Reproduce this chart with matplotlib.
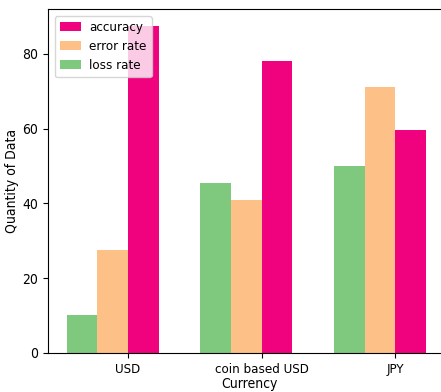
import matplotlib
matplotlib.use('Agg')
import matplotlib.pyplot as plt
import numpy as np

currencies = ['USD', 'coin based USD', 'JPY']
loss_rate = [10, 45.5, 50]
error_rate = [27.5, 41, 71]
accuracy = [87.5, 78, 59.5]

plt.rcParams['font.family'] = ['DejaVu Sans']
plt.rcParams['font.stretch'] = 'condensed'

fig = plt.figure(figsize=(4.41, 3.92), dpi=100)
# the right spine sits just past the image edge, as in the reference
ax = fig.add_axes([0.1088, 0.100, 0.9116, 0.876])

x = np.arange(len(currencies))
w = 0.23
ax.bar(x - 1.5 * w, loss_rate, w, color='#7fc97f', label='loss rate')
ax.bar(x - 0.5 * w, error_rate, w, color='#fdc086', label='error rate')
ax.bar(x + 0.5 * w, accuracy, w, color='#f0027f', label='accuracy')

ax.set_xlim(-0.6, 2.41)
ax.set_xticks(x)
ax.set_xticklabels(currencies, fontsize=9.5)
ax.set_yticks([0, 20, 40, 60, 80])
ax.set_xlabel('Currency', labelpad=1)
ax.set_ylabel('Quantity of Data', labelpad=2)

handles, labels = ax.get_legend_handles_labels()
ax.legend(handles[::-1], labels[::-1], loc='upper left', fontsize=9.5,
          handlelength=1.6, handletextpad=0.6, labelspacing=0.45)

fig.savefig('out.png', dpi=100)
